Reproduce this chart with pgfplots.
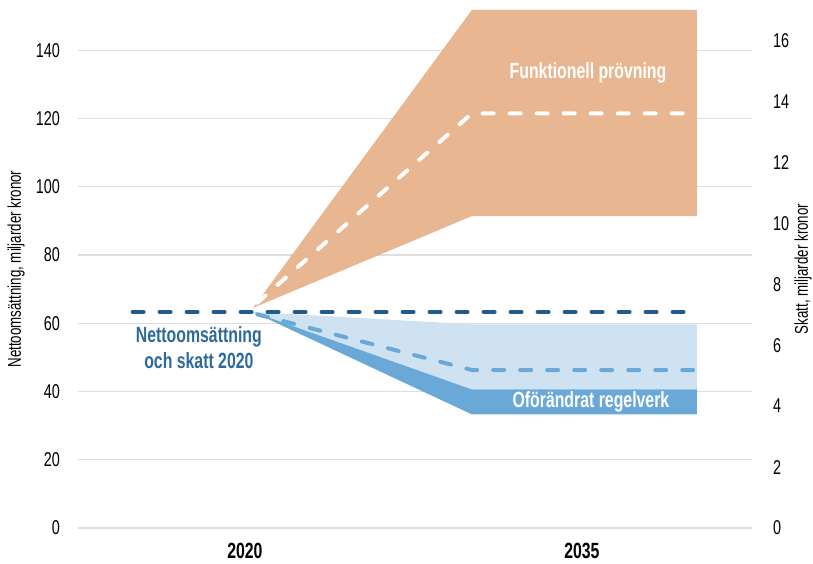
\documentclass[border=0pt]{standalone}
\usepackage{pgfplots}
\pgfplotsset{compat=1.18}
\usepackage{fontspec}
\setmainfont[FakeStretch=0.72]{Liberation Sans}
\definecolor{orangeC}{HTML}{E8B691}
\definecolor{lightblue}{HTML}{CFE2F1}
\definecolor{midblue}{HTML}{6AA9D7}
\definecolor{navy}{HTML}{245A89}
\definecolor{labelblue}{HTML}{2D6A9B}
\definecolor{gridgray}{HTML}{DEDEDE}
\begin{document}
\begin{tikzpicture}
\begin{axis}[
  scale only axis, width=674pt, height=518pt,
  xmin=2012.57, xmax=2042.57, ymin=0, ymax=151.8,
  axis line style={draw=none},
  major tick length=0pt,
  xtick={2020,2035}, xticklabels={2020,2035},
  ytick={0,20,...,140},
  ymajorgrids, grid style={line width=1.2pt, color=gridgray},
  /pgf/number format/assume math mode=true,
  yticklabel style={font=\fontsize{20}{24}\selectfont, anchor=east, inner sep=0pt, xshift=-18pt},
  xticklabel style={font=\bfseries\fontsize{22}{26}\selectfont, anchor=north, inner sep=0pt, yshift=-15pt},
  clip=true,
]
% Funktionell prövning range
\addplot[draw=none, fill=orangeC] coordinates {
  (2020.36,64.5) (2030.10,151.8) (2040.12,151.8) (2040.12,91.4) (2030.10,91.4)
} -- cycle;
% Oförändrat regelverk: light range
\addplot[draw=none, fill=lightblue] coordinates {
  (2020.36,63.3) (2030.10,59.7) (2040.12,59.7) (2040.12,40.6) (2030.10,40.6)
} -- cycle;
% Oförändrat regelverk: darker range
\addplot[draw=none, fill=midblue] coordinates {
  (2020.36,63.3) (2030.10,40.6) (2040.12,40.6) (2040.12,33.3) (2030.10,33.3)
} -- cycle;
% central estimates
\addplot[white, line width=4pt, line cap=round, dash pattern=on 11pt off 16pt] coordinates {
  (2020.55,66.0) (2030.10,121.5) (2040.12,121.5)
};
\addplot[midblue, line width=4pt, line cap=round, dash pattern=on 11pt off 16pt] coordinates {
  (2020.55,62.6) (2030.10,46.3) (2040.12,46.3)
};
% 2020 level
\addplot[navy, line width=4pt, line cap=round, dash pattern=on 11pt off 16pt] coordinates {
  (2015.0,63.3) (2040.12,63.3)
};
\node[font=\bfseries\fontsize{22}{26}\selectfont, text=white] at (axis cs:2035.27,133.3) {Funktionell prövning};
\node[font=\bfseries\fontsize{22}{26}\selectfont, text=white] at (axis cs:2035.4,36.9) {Oförändrat regelverk};
\node[font=\bfseries\fontsize{22}{26}\selectfont, text=labelblue, align=center] at (axis cs:2017.95,53.0) {Nettoomsättning\\och skatt 2020};
\end{axis}
\begin{axis}[
  scale only axis, width=674pt, height=518pt,
  xmin=2012.57, xmax=2042.57, ymin=0, ymax=17,
  axis x line=none, axis y line*=right,
  axis line style={draw=none},
  major tick length=0pt,
  ytick={0,2,...,16},
  /pgf/number format/assume math mode=true,
  yticklabel style={font=\fontsize{20}{24}\selectfont, anchor=west, inner sep=0pt, xshift=21pt},
]
\addplot[draw=none] coordinates {(2020,0)};
\end{axis}
\node[rotate=90, font=\fontsize{18.5}{22}\selectfont] at ([xshift=-62pt]current axis.west) {Nettoomsättning, miljarder kronor};
\node[rotate=90, font=\fontsize{18.5}{22}\selectfont] at ([xshift=51pt]current axis.east) {Skatt, miljarder kronor};
\pgfresetboundingbox
\path[use as bounding box] ([xshift=-78pt,yshift=-36pt]current axis.south west) rectangle ([xshift=61pt,yshift=10pt]current axis.north east);
\end{tikzpicture}
\end{document}
